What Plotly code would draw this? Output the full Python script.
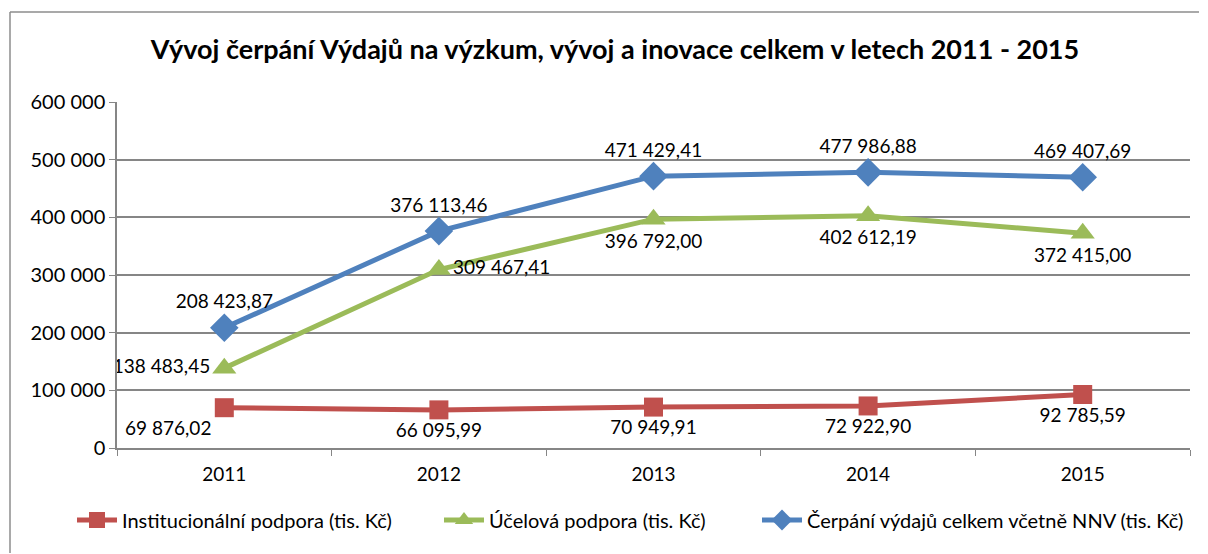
import plotly.graph_objects as go

years = ["2011", "2012", "2013", "2014", "2015"]
instit = [69876.02, 66095.99, 70949.91, 72922.90, 92785.59]
ucel = [138483.45, 309467.41, 396792.00, 402612.19, 372415.00]
celkem = [208423.87, 376113.46, 471429.41, 477986.88, 469407.69]

names = ["Institucionální podpora (tis. Kč)",
         "Účelová podpora (tis. Kč)",
         "Čerpání výdajů celkem včetně NNV (tis. Kč)"]
title = "Vývoj čerpání Výdajů na výzkum, vývoj a inovace celkem v letech 2011 - 2015"

FONT = "Lato"
LBL = dict(family=FONT, size=19, color="#000000")
fig = go.Figure()

fig.add_trace(go.Scatter(
    x=years, y=instit, name=names[0], mode="lines+markers+text", legend="legend",
    line=dict(color="#C0504D", width=5),
    marker=dict(symbol="square", size=19, color="#C0504D"),
    texttemplate="%{y:,.2f}",
    textposition=["bottom left", "bottom center", "bottom center", "bottom center", "bottom center"],
    textfont=LBL,
))
fig.add_trace(go.Scatter(
    x=years, y=ucel, name=names[1], mode="lines+markers+text", legend="legend2",
    line=dict(color="#9BBB59", width=5),
    marker=dict(symbol="triangle-up", size=21, color="#9BBB59"),
    texttemplate="%{y:,.2f}",
    textposition=["middle left", "middle right", "bottom center", "bottom center", "bottom center"],
    textfont=LBL,
))
fig.add_trace(go.Scatter(
    x=years, y=celkem, name=names[2], mode="lines+markers+text", legend="legend3",
    line=dict(color="#4F81BD", width=5),
    marker=dict(symbol="diamond", size=22, color="#4F81BD"),
    texttemplate="%{y:,.2f}",
    textposition="top center",
    textfont=LBL,
))

# page body has an 8px margin; work in reference pixel coords minus offset
OFF = 8
W, H = 1208 - 2 * OFF, 554 - OFF
L, R, T, B = 117 - OFF, 1190 - OFF, 102 - OFF, 448 - OFF

def px(x):
    return (x - OFF - L) / (R - L)
def py(y):
    return (B - (y - OFF)) / (B - T)

fig.add_shape(type="line", xref="paper", yref="paper",
              x0=px(10), x1=px(1199), y0=py(12), y1=py(12),
              line=dict(color="#8c8c8c", width=1.5))
fig.add_shape(type="line", xref="paper", yref="paper",
              x0=px(10), x1=px(10), y0=py(12), y1=py(553),
              line=dict(color="#8c8c8c", width=1.5))

def leg(text_x):
    return dict(orientation="h", x=(text_x - 50 - OFF) / W, xref="container", xanchor="left",
                y=1 - (520 - OFF) / H, yref="container", yanchor="middle",
                font=dict(family=FONT, size=20, color="#000000"),
                itemwidth=40, bgcolor="rgba(0,0,0,0)")

fig.update_layout(
    width=W, height=H,
    margin=dict(l=L, r=W - R, t=T, b=H - B),
    paper_bgcolor="white", plot_bgcolor="white",
    separators=", ",
    font=dict(family=FONT, size=18, color="#000000"),
    title=dict(text="<b>" + title + "</b>", x=(615 - OFF) / W, xref="container", xanchor="center",
               y=1 - (50 - OFF) / H, yref="container", yanchor="middle",
               font=dict(family=FONT, size=27, color="#000000")),
    showlegend=True,
    legend=leg(122),
    legend2=leg(489),
    legend3=leg(807),
    xaxis=dict(type="category", showgrid=False, showline=True, linecolor="#868686", linewidth=1.5,
               ticks="outside", tickson="boundaries", ticklen=6, tickcolor="#868686",
               ticklabelstandoff=8,
               tickfont=dict(family=FONT, size=19), range=[-0.5, 4.5], zeroline=False),
    yaxis=dict(range=[0, 600000], dtick=100000, tickformat=",d", showgrid=True,
               gridcolor="#868686", gridwidth=1.5, showline=True, linecolor="#868686", linewidth=1.5,
               ticks="outside", ticklen=6, tickcolor="#868686", zeroline=False,
               tickfont=dict(family=FONT, size=20)),
)

fig.write_html("out.html")
